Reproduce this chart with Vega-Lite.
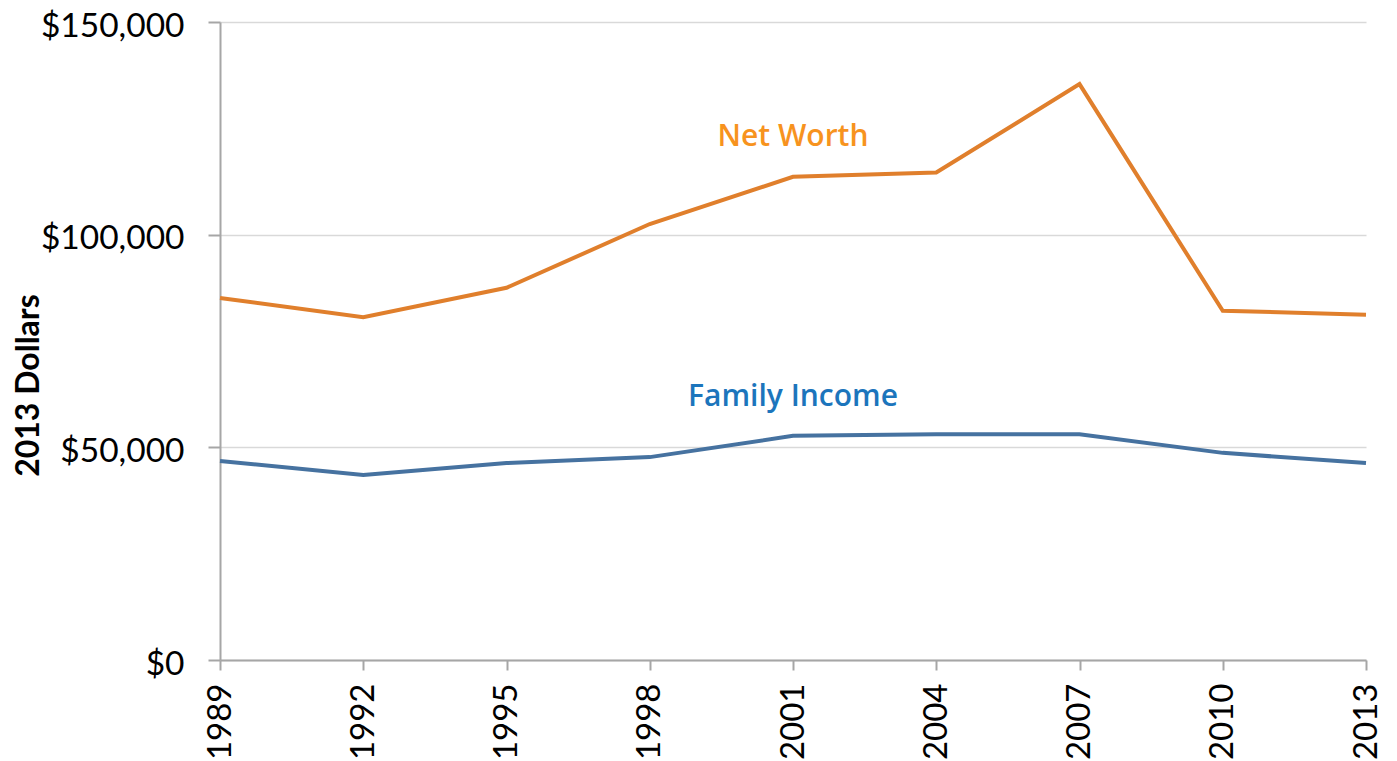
{
  "$schema": "https://vega.github.io/schema/vega-lite/v6.json",
  "width": 1146,
  "height": 638,
  "autosize": {"type": "none"},
  "padding": {"left": 220, "top": 22, "right": 31, "bottom": 101},
  "background": "white",
  "config": {"view": {"stroke": null}},
  "datasets": {
    "series": [
      {"year": "1989", "series": "Net Worth", "value": 85100},
      {"year": "1992", "series": "Net Worth", "value": 80600},
      {"year": "1995", "series": "Net Worth", "value": 87500},
      {"year": "1998", "series": "Net Worth", "value": 102500},
      {"year": "2001", "series": "Net Worth", "value": 113600},
      {"year": "2004", "series": "Net Worth", "value": 114600},
      {"year": "2007", "series": "Net Worth", "value": 135400},
      {"year": "2010", "series": "Net Worth", "value": 82100},
      {"year": "2013", "series": "Net Worth", "value": 81200},
      {"year": "1989", "series": "Family Income", "value": 46800},
      {"year": "1992", "series": "Family Income", "value": 43500},
      {"year": "1995", "series": "Family Income", "value": 46300},
      {"year": "1998", "series": "Family Income", "value": 47700},
      {"year": "2001", "series": "Family Income", "value": 52700},
      {"year": "2004", "series": "Family Income", "value": 53100},
      {"year": "2007", "series": "Family Income", "value": 53100},
      {"year": "2010", "series": "Family Income", "value": 48700},
      {"year": "2013", "series": "Family Income", "value": 46300}
    ],
    "labels": [
      {"year": "2001", "series": "Net Worth", "value": 123000},
      {"year": "2001", "series": "Family Income", "value": 61800}
    ]
  },
  "layer": [
    {
      "data": {"name": "series"},
      "mark": {"type": "line", "strokeWidth": 4},
      "encoding": {
        "x": {
          "field": "year", "type": "ordinal",
          "scale": {"type": "point", "padding": 0},
          "axis": {
            "title": null, "labelAngle": -90, "labelAlign": "right", "labelBaseline": "middle",
            "labelFont": "Lato", "labelFontSize": 33, "labelColor": "#000000",
            "labelPadding": 13, "tickSize": 10, "tickColor": "#a6a6a6", "tickWidth": 2,
            "domainColor": "#a6a6a6", "domainWidth": 2, "grid": false
          }
        },
        "y": {
          "field": "value", "type": "quantitative",
          "scale": {"domain": [0, 150000], "nice": false},
          "axis": {
            "title": "2013 Dollars", "titleFont": "Lato", "titleFontSize": 32, "titleFontWeight": "bold",
            "titleColor": "#000000", "titleX": -192, "titleY": 363, "titleBaseline": "middle", "titleAngle": -90,
            "values": [0, 50000, 100000, 150000], "format": "$,.0f",
            "labelFont": "Lato", "labelFontSize": 33.5, "labelColor": "#000000", "labelPadding": 24,
            "labelOffset": 4,
            "tickSize": 12, "tickColor": "#a6a6a6", "tickWidth": 2,
            "domainColor": "#a6a6a6", "domainWidth": 2,
            "grid": true, "gridColor": "#d9d9d9", "gridWidth": 1.5
          }
        },
        "color": {
          "field": "series", "type": "nominal",
          "scale": {"domain": ["Net Worth", "Family Income"], "range": ["#E07F2C", "#4672A0"]},
          "legend": null
        }
      }
    },
    {
      "data": {"name": "labels"},
      "mark": {"type": "text", "font": "Open Sans", "fontSize": 30, "fontWeight": 600, "align": "center", "baseline": "middle"},
      "encoding": {
        "x": {"field": "year", "type": "ordinal"},
        "y": {"field": "value", "type": "quantitative"},
        "text": {"field": "series"},
        "color": {
          "field": "series", "type": "nominal",
          "scale": {"domain": ["Net Worth", "Family Income"], "range": ["#F7931E", "#1C75BC"]},
          "legend": null
        }
      }
    }
  ],
  "resolve": {"scale": {"color": "independent"}}
}
